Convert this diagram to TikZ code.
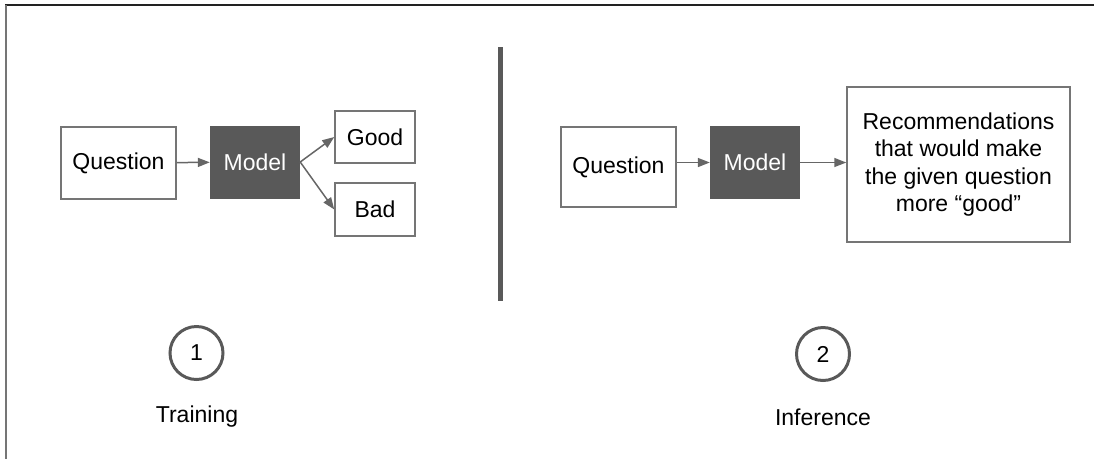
\documentclass[tikz,border=0pt]{standalone}
\usepackage{fontspec}
\setmainfont{Liberation Sans}
\usetikzlibrary{arrows.meta}
\definecolor{boxline}{HTML}{757575}
\definecolor{modelgray}{HTML}{595959}
\definecolor{arrowgray}{HTML}{666666}
\definecolor{framegray}{HTML}{222222}
\tikzset{
  txt/.style={font=\fontsize{23}{27.5}\selectfont},
  qbox/.style={txt, draw=boxline, line width=1.5pt, fill=white, inner sep=0pt},
  modelbox/.style={txt, fill=modelgray, text=white, inner sep=0pt,
    minimum width=90pt, minimum height=73pt},
  flow/.style={draw=arrowgray, line width=1.5pt, -{Triangle[length=12pt,width=9pt]}},
  stepcircle/.style={txt, circle, draw=modelgray, line width=3pt,
    minimum size=53pt, inner sep=0pt}
}
\begin{document}
\begin{tikzpicture}[x=1pt, y=-1pt]
  \useasboundingbox (0,0) rectangle (1094,459);
  % frame edges
  \draw [framegray, line width=2pt] (5,5) -- (1094,5);
  \draw [boxline, line width=2pt] (6,5) -- (6,459);
  % training
  \node [qbox, minimum width=115pt, minimum height=72pt] (q1) at (118.5,163) {Question};
  \node [modelbox] (m1) at (255,162) {Model};
  \node [qbox, minimum width=80pt, minimum height=52pt] (good) at (375,137) {Good};
  \node [qbox, minimum width=80pt, minimum height=53pt] (bad) at (375,209.5) {Bad};
  \draw [flow] (q1) -- (m1);
  \draw [flow] (m1.east) -- (good.west);
  \draw [flow] (m1.east) -- (bad.west);
  % divider
  \draw [modelgray, line width=5pt] (500,47) -- (500,301);
  % inference
  \node [qbox, minimum width=115pt, minimum height=80pt] (q2) at (618.5,167) {Question};
  \node [modelbox] (m2) at (755,162.5) {Model};
  \node [qbox, minimum width=223pt, minimum height=155pt, align=center] (rec) at (958.5,164.5)
    {Recommendations\\that would make\\the given question\\more “good”};
  \draw [flow] (m2.west -| q2.east) -- (m2.west);
  \draw [flow] (m2.east) -- (m2.east -| rec.west);
  % steps
  \node [stepcircle] (s1) at (196.5,353) {1};
  \node [txt] (train) at (197,417) {Training};
  \node [stepcircle] (s2) at (823,354) {2};
  \node [txt] (infer) at (823,417) {Inference};
\end{tikzpicture}
\end{document}
